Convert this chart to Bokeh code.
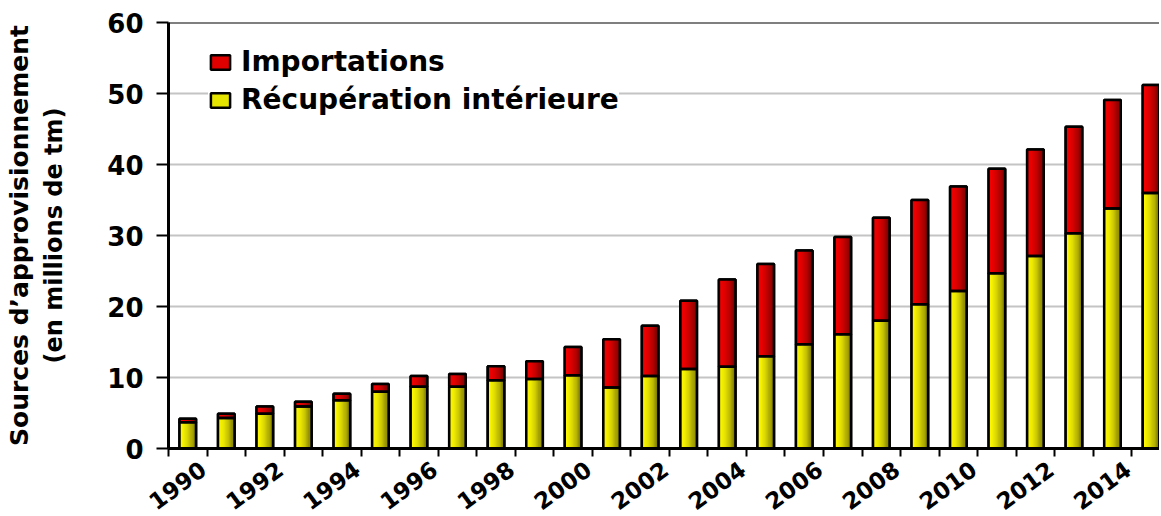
from bokeh.plotting import figure
from bokeh.models import (ColumnDataSource, Range1d, FixedTicker, LinearAxis, Span,
                          Legend, LegendItem)
from bokeh.transform import dodge, stack
from bokeh.embed import file_html
from bokeh.resources import INLINE

# ---- data (millions de tm) ----
years = list(range(1990, 2016))
recuperation = [3.7, 4.3, 4.9, 5.9, 6.8, 8.0, 8.7, 8.7, 9.6, 9.8, 10.3, 8.6, 10.2,
                11.2, 11.5, 13.0, 14.7, 16.1, 18.0, 20.3, 22.2, 24.7, 27.1, 30.3, 33.8, 36.0]
importations = [0.5, 0.6, 1.0, 0.7, 0.9, 1.1, 1.5, 1.8, 2.0, 2.5, 4.0, 6.8, 7.1,
                9.6, 12.3, 13.0, 13.2, 13.7, 14.5, 14.7, 14.7, 14.7, 15.0, 15.0, 15.3, 15.2]
series_labels = ["Importations", "Récupération intérieure"]
y_ticks = [0, 10, 20, 30, 40, 50, 60]
x_label_years = years[::2]

FONT = "DejaVu Sans"
LABEL_SHIFT = 0.40   # rotated year labels end slightly right of the bar centre

src = ColumnDataSource(dict(year=years, recup=recuperation, imports=importations))

p = figure(width=1159, height=520, output_backend="svg", toolbar_location=None,
           x_range=Range1d(1989.5, 2015.22), y_range=Range1d(0, 60),
           min_border_left=168, min_border_right=0, min_border_top=22,
           min_border_bottom=69)
p.outline_line_color = None
p.background_fill_color = "white"

BW = 0.43
YEL, RED = "#e4e400", "#e00000"

# base bars (used by legend)
base = p.vbar_stack(["recup", "imports"], x="year", width=BW, source=src,
                    fill_color=[YEL, RED], line_color="black", line_width=2.5)

# gradient strips
N = 14
for i in range(N):
    t = (i + 0.5) / N
    f = 1.0 - 0.58 * t ** 1.8
    yc = "#%02x%02x00" % (int(255 * f), int(250 * f))
    rc = "#%02x0000" % int(245 * f)
    off = -BW / 2 + (i + 0.5) * BW / N
    p.vbar(x=dodge("year", off), width=BW / N * 1.15, bottom=0, top="recup",
           source=src, fill_color=yc, line_color=None)
    p.vbar(x=dodge("year", off), width=BW / N * 1.15, bottom="recup",
           top=stack("recup", "imports"), source=src, fill_color=rc, line_color=None)

# outlines on top
p.vbar_stack(["recup", "imports"], x="year", width=BW, source=src,
             fill_color=None, line_color="black", line_width=2.5)

p.add_layout(Span(location=60, dimension="width", line_color="black", line_width=2))

# grid
p.xgrid.grid_line_color = None
p.ygrid.grid_line_color = "#c4c4c4"
p.ygrid.grid_line_width = 2

# y axis
yax = p.yaxis[0]
yax.ticker = FixedTicker(ticks=y_ticks)
yax.axis_line_color = "black"
yax.axis_line_width = 3
yax.major_tick_out = 12
yax.major_tick_in = 0
yax.major_tick_line_width = 2
yax.major_tick_line_color = "black"
yax.minor_tick_line_color = None
yax.major_label_text_font = FONT
yax.major_label_text_font_style = "bold"
yax.major_label_text_font_size = "26px"
yax.major_label_text_color = "black"
yax.major_label_standoff = 13
yax.axis_label = "(en millions de tm)"
yax.axis_label_text_font = FONT
yax.axis_label_text_font_style = "bold"
yax.axis_label_text_font_size = "24px"
yax.axis_label_text_color = "black"
yax.axis_label_standoff = 36

outer = LinearAxis(ticker=FixedTicker(ticks=[]), axis_label="Sources d’approvisionnement",
                   axis_line_color=None, major_tick_out=0, major_tick_in=0,
                   minor_tick_out=0, minor_tick_in=0, major_label_standoff=0,
                   axis_label_standoff=4, axis_label_text_font=FONT,
                   axis_label_text_font_style="bold", axis_label_text_font_size="25px",
                   axis_label_text_color="black")
p.add_layout(outer, "left")

# x axis
xax = p.xaxis[0]
label_pos = [y + LABEL_SHIFT for y in x_label_years]
xax.ticker = FixedTicker(ticks=label_pos,
                         minor_ticks=[y - 0.5 for y in years] + [years[-1] + 0.5])
xax.major_label_overrides = {pos: str(y) for pos, y in zip(label_pos, x_label_years)}
xax.axis_line_color = "black"
xax.axis_line_width = 3
xax.major_tick_line_color = None
xax.major_tick_out = 0
xax.major_tick_in = 0
xax.minor_tick_out = 8
xax.minor_tick_in = 0
xax.minor_tick_line_color = "black"
xax.minor_tick_line_width = 2
xax.major_label_orientation = 0.63
xax.major_label_standoff = 10
xax.major_label_text_font = FONT
xax.major_label_text_font_style = "bold"
xax.major_label_text_font_size = "23px"
xax.major_label_text_color = "black"

legend = Legend(items=[LegendItem(label=series_labels[0], renderers=[base[1]]),
                       LegendItem(label=series_labels[1], renderers=[base[0]])],
                location=(40, 332))
legend.label_text_font = FONT
legend.label_text_font_style = "bold"
legend.label_text_font_size = "28px"
legend.label_text_color = "black"
legend.glyph_width = 24
legend.glyph_height = 18
legend.label_height = 28
legend.label_standoff = 9
legend.spacing = 5
legend.padding = 5
legend.margin = 0
legend.border_line_color = None
legend.background_fill_color = "white"
legend.background_fill_alpha = 1.0
p.add_layout(legend)

open("out.html", "w").write(file_html(p, INLINE))
